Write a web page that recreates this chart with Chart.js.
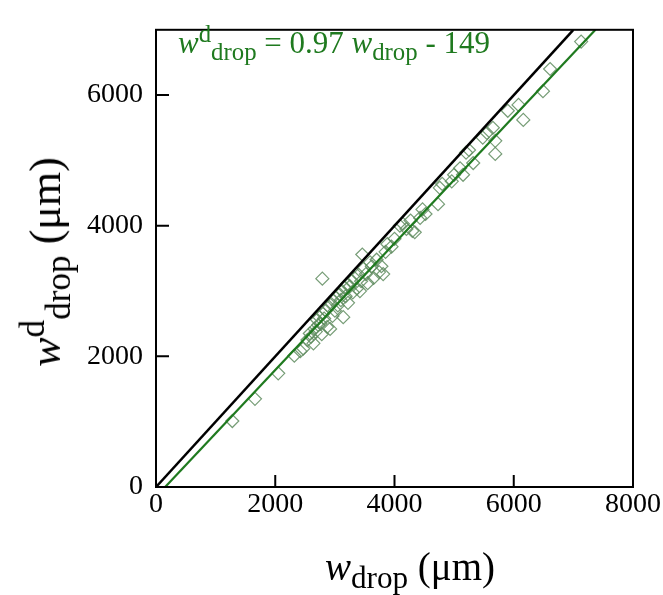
<!DOCTYPE html>
<html lang="en">
<head>
<meta charset="UTF-8">
<title>w drop</title>
<script src="https://cdn.jsdelivr.net/npm/chart.js"></script>
<style>
  body { margin: 0; background: #fff; }
  #wrap { position: relative; width: 663px; height: 595px; font-family: "Liberation Serif", "Times New Roman", serif; }
  .lbl { position: absolute; white-space: nowrap; line-height: 1; }
  .lbl i { font-style: italic; }
  .lbl sub, .lbl sup { font-size: 0.8em; line-height: 0; }
</style>
</head>
<body>
<div id="wrap">
  <canvas id="myChart" width="663" height="595"></canvas>
  <div class="lbl" id="eq" style="left:178px; top:27px; font-size:31px; color:#1f7a1f;">
    <i>w</i><sup>d</sup><sub>drop</sub> = 0.97 <i>w</i><sub>drop</sub> - 149
  </div>
  <div class="lbl" id="ytitle" style="left:46px; top:262px; font-size:44px; transform:translate(-50%,-50%) rotate(-90deg);">
    <i>w</i><sup>d</sup><sub>drop</sub> (μm)
  </div>
  <div class="lbl" id="xtitle" style="left:410px; top:566px; font-size:39px; transform:translate(-50%,-50%);">
    <i>w</i><sub>drop</sub> (μm)
  </div>
</div>
<script>
// measured drop widths (x) and detected widths (y), in µm
const wDrop = [1280, 1660, 2050, 2320, 2420, 2470, 2540, 2580, 2600, 2640,
  2660, 2680, 2700, 2720, 2740, 2760, 2780, 2790, 2800, 2820,
  2850, 2870, 2900, 2920, 2940, 2960, 2980, 3000, 3020, 3050,
  3080, 3100, 3120, 3140, 3160, 3180, 3200, 3220, 3250, 3280,
  3300, 3330, 3370, 3400, 3420, 3440, 3460, 3480, 3520, 3550,
  3590, 3620, 3650, 3700, 3740, 3780, 3810, 3850, 3880, 3950,
  4000, 4090, 4140, 4200, 4270, 4300, 4340, 4430, 4470, 4520,
  4730, 4760, 4800, 4960, 5000, 5100, 5150, 5200, 5250, 5320,
  5480, 5550, 5650, 5690, 5690, 5900, 6080, 6160, 6490, 6610, 7130];
const wDropD = [1010, 1350, 1740, 2010, 2080, 2120, 2250, 2350, 2300, 2200,
  2420, 2380, 2560, 2480, 2600, 2500, 2340, 3190, 2650, 2580,
  2700, 2450, 2760, 2420, 2800, 2620, 2850, 2700, 2900, 2780,
  2950, 2860, 3000, 2600, 3050, 2920, 3100, 2820, 3070, 3150,
  2980, 3200, 3040, 3250, 3000, 3150, 3560, 3340, 3260, 3120,
  3440, 3380, 3200, 3480, 3290, 3380, 3260, 3600, 3720, 3680,
  3800, 4000, 4030, 3950, 4080, 3920, 3900, 4120, 4250, 4180,
  4330, 4580, 4640, 4680, 4780, 4880, 4780, 5120, 5160, 4960,
  5350, 5420, 5500, 5300, 5100, 5760, 5850, 5620, 6060, 6400, 6820];

// fit line  y = 0.97 x - 149
const fitSlope = 0.97;
const fitIntercept = -149;
const xTicks = [0, 2000, 4000, 6000, 8000];
const yTicks = [0, 2000, 4000, 6000];
const xMax = 8000, yMax = 7000;

const points = wDrop.map((x, i) => ({ x: x, y: wDropD[i] }));
const fitLine = [
  { x: -fitIntercept / fitSlope, y: 0 },
  { x: (yMax - fitIntercept) / fitSlope, y: yMax }
];
const oneToOne = [{ x: 0, y: 0 }, { x: yMax, y: yMax }];

// box + inward ticks
const frame = {
  id: 'frame',
  afterDatasetsDraw(chart) {
    const c = chart.ctx, a = chart.chartArea;
    const xs = chart.scales.x, ys = chart.scales.y;
    c.save();
    c.strokeStyle = '#000';
    c.lineWidth = 2;
    c.strokeRect(a.left, a.top, a.right - a.left, a.bottom - a.top);
    c.beginPath();
    xTicks.forEach(v => {
      const px = xs.getPixelForValue(v);
      c.moveTo(px, a.bottom);
      c.lineTo(px, a.bottom - 12);
    });
    yTicks.forEach(v => {
      const py = ys.getPixelForValue(v);
      c.moveTo(a.left, py);
      c.lineTo(a.left + 13, py);
    });
    c.stroke();
    c.restore();
  }
};

const tickFont = { family: '"Liberation Serif", "Times New Roman", serif', size: 28 };

const ctx = document.querySelector('#myChart');
const myChart = new Chart(ctx, {
  type: 'scatter',
  data: {
    datasets: [
      {
        type: 'line',
        data: oneToOne,
        borderColor: '#000',
        borderWidth: 2.5,
        pointRadius: 0,
        order: 2
      },
      {
        type: 'line',
        data: fitLine,
        borderColor: '#1f7a1f',
        borderWidth: 2.2,
        pointRadius: 0,
        order: 1
      },
      {
        data: points,
        pointStyle: 'rectRot',
        pointRadius: 6.5,
        borderWidth: 1.2,
        borderColor: 'rgba(95,140,95,0.85)',
        backgroundColor: 'rgba(0,0,0,0)',
        order: 3
      }
    ]
  },
  options: {
    responsive: false,
    animation: false,
    layout: { padding: { top: 11, right: 30, left: 0, bottom: 0 } },
    plugins: {
      legend: { display: false },
      tooltip: { enabled: false }
    },
    scales: {
      x: {
        type: 'linear',
        min: 0,
        max: xMax,
        afterFit(s) { s.height = 108; },
        afterBuildTicks(s) { s.ticks = xTicks.map(v => ({ value: v })); },
        grid: { display: false, drawTicks: false },
        border: { display: false },
        ticks: {
          padding: 1,
          color: '#000',
          font: tickFont,
          maxRotation: 0,
          callback: v => String(v)
        }
      },
      y: {
        type: 'linear',
        min: 0,
        max: yMax,
        afterFit(s) { s.width = 156; },
        afterBuildTicks(s) { s.ticks = yTicks.map(v => ({ value: v })); },
        grid: { display: false, drawTicks: false },
        border: { display: false },
        ticks: {
          padding: 13,
          color: '#000',
          font: tickFont,
          callback: v => String(v)
        }
      }
    }
  },
  plugins: [frame]
});
</script>
</body>
</html>
